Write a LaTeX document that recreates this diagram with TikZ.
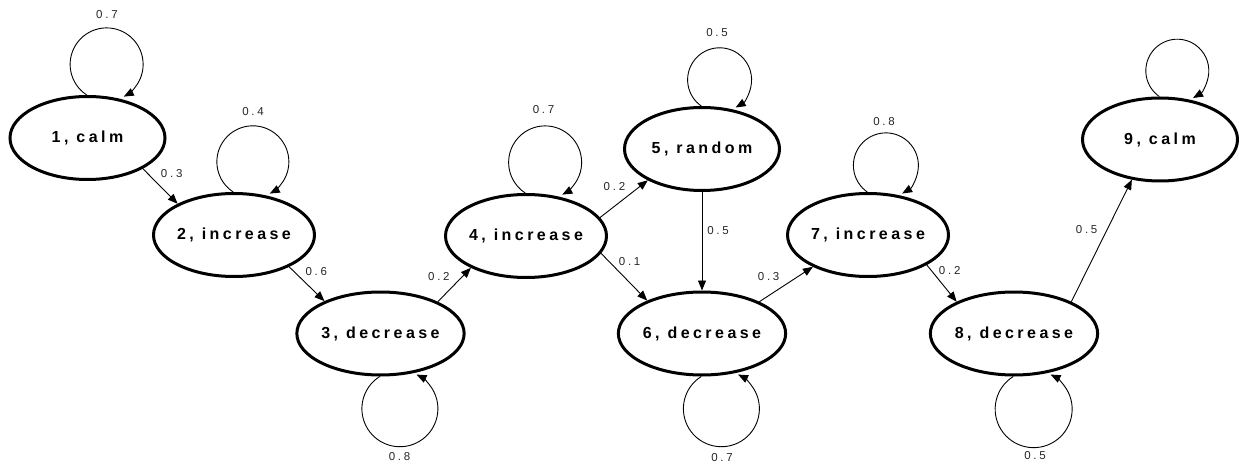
\documentclass[tikz,border=0pt]{standalone}
\usepackage{fontspec}
\usetikzlibrary{arrows.meta,calc,shapes.geometric}
\newfontfamily\statefont{Liberation Sans}[LetterSpace=21.6]
\newfontfamily\probfont{Liberation Sans}[LetterSpace=24]

\tikzset{
  state/.style={draw, line width=3pt, ellipse, minimum width=155pt, minimum height=83pt,
    inner sep=0pt, font=\statefont\bfseries\fontsize{16pt}{18pt}\selectfont},
  trans/.style={line width=0.9pt, -{Triangle[length=10pt,width=8pt]}},
  prob/.style={inner sep=0pt, text=black!85, font=\probfont\fontsize{11.5pt}{13pt}\selectfont},
  % self-loops: circular arc leaving the top (or bottom) of a state and re-entering it
  looptop/.style={trans},
  loopbot/.style={trans}
}

\begin{document}
\begin{tikzpicture}[x=1pt,y=1pt]
\useasboundingbox (0,0) rectangle (1239,464);

% states
\node[state] (n1) at (87.5,326)  {1, calm};
\node[state] (n2) at (234,229)   {2, increase};
\node[state] (n3) at (380.5,130.5) {3, decrease};
\node[state] (n4) at (526,228)   {4, increase};
\node[state] (n5) at (702,315)   {5, random};
\node[state] (n6) at (702,130.5) {6, decrease};
\node[state] (n7) at (868,229)   {7, increase};
\node[state] (n8) at (1014,130.5) {8, decrease};
\node[state] (n9) at (1160,324.5) {9, calm};

% transitions between states
\draw[trans] (n1.-29) -- node[prob, pos=0.5, xshift=11.5pt, yshift=12.5pt] (p12) {0.3} (n2.151);
\draw[trans] (n2.-30) -- node[prob, pos=0.5, xshift=9.5pt, yshift=12pt] (p23) {0.6} (n3.150);
\draw[trans] (n3.29)  -- node[prob, pos=0.5, xshift=-15.5pt, yshift=8pt] (p34) {0.2} (n4.210);
\draw[trans] (n4.14)  -- node[prob, pos=0.5, xshift=-9.5pt, yshift=12.5pt] (p45) {0.2} (n5.210);
\draw[trans] (n4.-13) -- node[prob, pos=0.5, xshift=5.5pt, yshift=15.5pt] (p46) {0.1} (n6.149);
\draw[trans] (n5.south) -- node[prob, pos=0.5, xshift=16pt, yshift=11pt] (p56) {0.5} (n6.north);
\draw[trans] (n6.29)  -- node[prob, pos=0.5, xshift=-17.5pt, yshift=7.5pt] (p67) {0.3} (n7.210);
\draw[trans] (n7.-27) -- node[prob, pos=0.5, xshift=8pt, yshift=12.5pt] (p78) {0.2} (n8.151);
\draw[trans] (n8.29)  -- node[prob, pos=0.5, xshift=-15pt, yshift=11pt] (p89) {0.5} (n9.235);

% self-loops above
\draw[looptop] (n1.91) arc[start angle=237, end angle=-62, radius=36.5pt];
\draw[looptop] (n2.91) arc[start angle=237, end angle=-62, radius=36pt];
\draw[looptop] (n4.91) arc[start angle=237, end angle=-62, radius=36.5pt];
\draw[looptop] (n5.91) arc[start angle=235, end angle=-60, radius=32pt];
\draw[looptop] (n7.91) arc[start angle=235, end angle=-60, radius=32.5pt];
\draw[looptop] (n9.91) arc[start angle=235, end angle=-60, radius=31.5pt];
% self-loops below
\draw[loopbot] (n3.269) arc[start angle=122, end angle=424, radius=38pt];
\draw[loopbot] (n6.269) arc[start angle=122, end angle=424, radius=38pt];
\draw[loopbot] (n8.269) arc[start angle=122, end angle=424, radius=38.5pt];

% self-loop probabilities
\node[prob] (q1) at ($(n1.center)+(19.5,123)$) {0.7};
\node[prob] (q2) at ($(n2.center)+(19,123)$) {0.4};
\node[prob] (q4) at ($(n4.center)+(17.5,126)$) {0.7};
\node[prob] (q5) at ($(n5.center)+(15,116)$) {0.5};
\node[prob] (q7) at ($(n7.center)+(16,113)$) {0.8};
\node[prob] (q3) at ($(n3.center)+(19,-123.5)$) {0.8};
\node[prob] (q6) at ($(n6.center)+(20,-124.5)$) {0.7};
\node[prob] (q8) at ($(n8.center)+(21,-122.5)$) {0.5};
\end{tikzpicture}
\end{document}
